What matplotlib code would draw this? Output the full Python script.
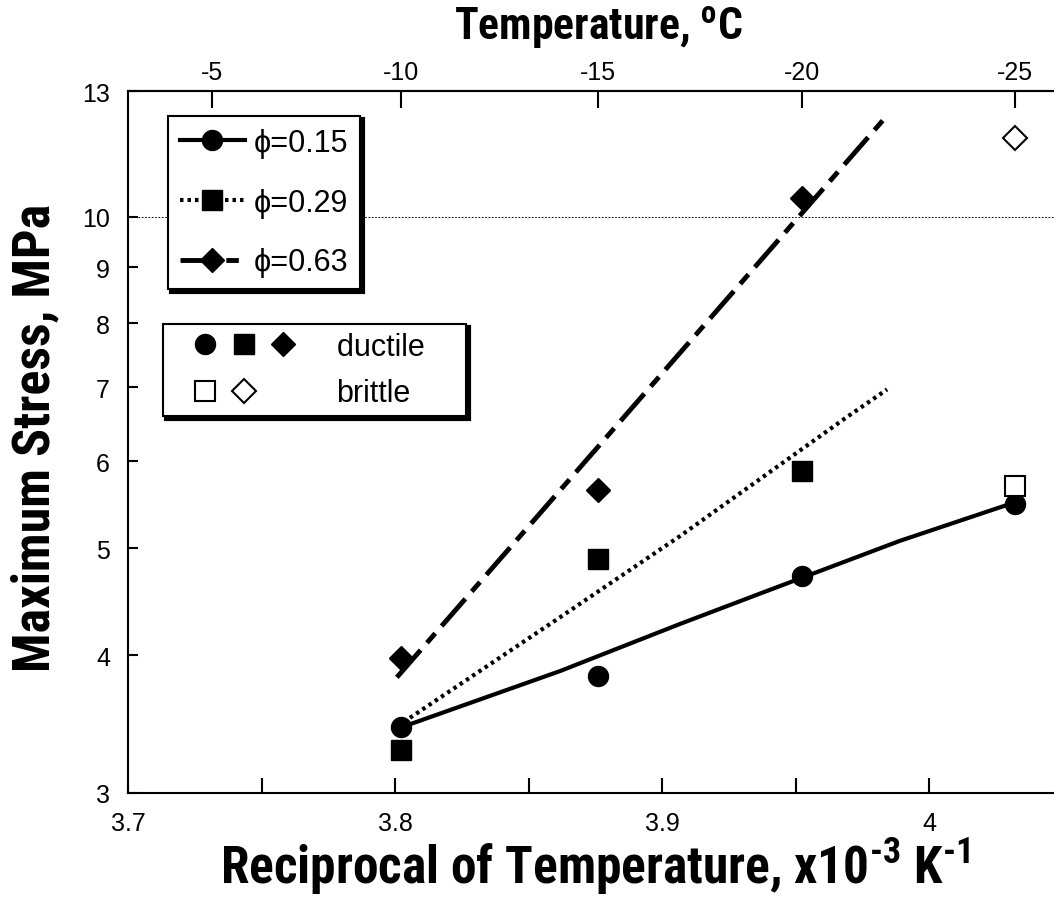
import matplotlib
matplotlib.use('Agg')
import matplotlib.pyplot as plt
from matplotlib import font_manager
from matplotlib.lines import Line2D
from matplotlib.legend_handler import HandlerTuple
from matplotlib.ticker import NullLocator

# condensed bold face for the axis titles, if one is installed
installed = {f.name for f in font_manager.fontManager.ttflist}
narrow = next((n for n in ['Liberation Sans Narrow', 'Arial Narrow',
                           'Roboto Condensed', 'Open Sans Condensed']
               if n in installed), None)
if narrow:
    title_family, title_scale = narrow, 1.0
else:
    title_family, title_scale = 'Liberation Sans', 0.82

plt.rcParams['font.family'] = ['Liberation Sans', 'DejaVu Sans']
plt.rcParams['mathtext.fontset'] = 'custom'
plt.rcParams['mathtext.rm'] = title_family
plt.rcParams['mathtext.bf'] = title_family + ':bold'
plt.rcParams['lines.scale_dashes'] = False

# test temperatures in C, plotted as 1000/(273+T)
temps_c = [-10, -15, -20, -25]
inv_temp = [1000.0 / (273 + t) for t in temps_c]

# maximum stress (MPa) per volume fraction
stress_015 = [3.44, 3.83, 4.72, 5.49]
stress_029 = [3.28, 4.89, 5.88, 5.70]
stress_063 = [3.98, 5.65, 10.39, 11.78]
brittle_015 = [False, False, False, False]
brittle_029 = [False, False, False, True]
brittle_063 = [False, False, False, True]

# fitted curves
fit_015_x = [3.8022, 3.8618, 3.9067, 3.9367, 3.9891, 4.0326]
fit_015_y = [3.44, 3.87, 4.27, 4.55, 5.08, 5.51]
fit_029_x = [3.8056, 3.8618, 3.9067, 3.9367, 3.9685, 3.9843]
fit_029_y = [3.51, 4.33, 5.13, 5.78, 6.56, 6.97]
fit_063_x = [3.8007, 3.9843]
fit_063_y = [3.82, 12.35]

y_ticks = [3, 4, 5, 6, 7, 8, 9, 10, 13]
x_major = [3.7, 3.8, 3.9, 4.0]
x_major_labels = ['3.7', '3.8', '3.9', '4']
x_minor = [3.75, 3.85, 3.95]
top_temps = [-5, -10, -15, -20, -25]

ls_029 = (0, (2.5, 2.9))
ls_063 = (0, (26, 7, 9, 7))

fig = plt.figure(figsize=(10.54, 9.03), dpi=100)
ax = fig.add_axes([128 / 1054, 1 - 794 / 903, (1062.5 - 128) / 1054, (794 - 92) / 903])

ax.axhline(10, color='k', lw=0.7, ls=(0, (1.2, 1.2)), zorder=1)

ax.plot(fit_015_x, fit_015_y, color='k', lw=3, ls='-', zorder=2)
ax.plot(fit_029_x, fit_029_y, color='k', lw=3, ls=ls_029, zorder=2)
ax.plot(fit_063_x, fit_063_y, color='k', lw=3.5, ls=ls_063, zorder=2)

series = [(stress_015, brittle_015, 'o', 14.4),
          (stress_029, brittle_029, 's', 15),
          (stress_063, brittle_063, 'D', 12.2)]
for vals, brit, mk, ms in series:
    for xv, yv, b in zip(inv_temp, vals, brit):
        ax.plot([xv], [yv], ls='none', marker=mk, ms=ms,
                mfc='white' if b else 'black', mec='black',
                mew=1.5 if b else 1, zorder=3)

ax.set_yscale('log')
ax.set_xlim(3.7, 4.05)
ax.set_ylim(3, 13)
ax.set_yticks(y_ticks)
ax.set_yticklabels([str(v) for v in y_ticks])
ax.yaxis.set_minor_locator(NullLocator())
ax.set_xticks(x_major)
ax.set_xticklabels(x_major_labels)
ax.set_xticks(x_minor, minor=True)

ax.tick_params(axis='y', which='both', direction='in', length=7, width=1.5,
               labelsize=18, pad=13)
ax.tick_params(axis='x', which='both', direction='in', length=11, width=1.5,
               labelsize=18, pad=13, top=False)
for s in ax.spines.values():
    s.set_linewidth(1.5)

sec = ax.secondary_xaxis('top')
sec.set_xticks([1000.0 / (273 + t) for t in top_temps])
sec.set_xticklabels([str(t) for t in top_temps])
sec.tick_params(direction='in', length=12, width=1.5, labelsize=18, pad=5)
sec.spines['top'].set_linewidth(1.5)

title_font = dict(family=[title_family, 'DejaVu Sans'], weight='bold')
fig.text(595 / 1054, 1 - 866 / 903,
         'Reciprocal of Temperature, x10$^{\\mathbf{\u20103}}$ K$^{\\mathbf{\u20101}}$',
         ha='center', va='center', fontsize=37 * title_scale, **title_font)
fig.text(35 / 1054, 1 - 438 / 903, 'Maximum Stress, MPa', rotation=90,
         ha='center', va='center', fontsize=37.5 * title_scale, **title_font)
fig.text(598 / 1054, 1 - 28 / 903, r'Temperature, $^{\mathbf{o}}$C',
         ha='center', va='center', fontsize=31.5 * title_scale, **title_font)

shadow = {'facecolor': 'black', 'edgecolor': 'black', 'linewidth': 3, 'alpha': 1}

h1 = [Line2D([], [], color='k', lw=3, ls='-', marker='o', ms=14.4),
      Line2D([], [], color='k', lw=3, ls=ls_029, marker='s', ms=15),
      Line2D([], [], color='k', lw=3.5, ls=ls_063, marker='D', ms=12.2)]
lab1 = ['\u03d5=0.15', '\u03d5=0.29', '\u03d5=0.63']
leg1 = ax.legend(h1, lab1, loc='upper left',
                 bbox_to_anchor=((168 - 128) / 934.5, (794 - 117) / 702),
                 borderaxespad=0, fontsize=22, handlelength=2.13,
                 handletextpad=0.3, labelspacing=0.98, borderpad=0.38,
                 fancybox=False, edgecolor='black', framealpha=1,
                 shadow=shadow)
leg1.get_frame().set_linewidth(1.5)
ax.add_artist(leg1)

duct = tuple(Line2D([], [], ls='none', marker=m, ms=s, mfc='black', mec='black')
             for m, s in [('o', 14.4), ('s', 15), ('D', 12.2)])
brit = tuple(Line2D([], [], ls='none', marker=m, ms=s, mfc='white', mec='black', mew=1.5)
             for m, s in [('s', 15), ('D', 12.2)])
leg2 = ax.legend([duct, brit], ['ductile    ', 'brittle'], loc='upper left',
                 bbox_to_anchor=((163 - 128) / 934.5, (794 - 325) / 702),
                 borderaxespad=0, fontsize=22, handlelength=4.78,
                 handletextpad=0.65, labelspacing=0.55, borderpad=0.25,
                 fancybox=False, edgecolor='black', framealpha=1,
                 shadow=shadow,
                 handler_map={tuple: HandlerTuple(ndivide=3, pad=-0.95)})
leg2.get_frame().set_linewidth(1.5)

fig.savefig('out.png', dpi=100)
